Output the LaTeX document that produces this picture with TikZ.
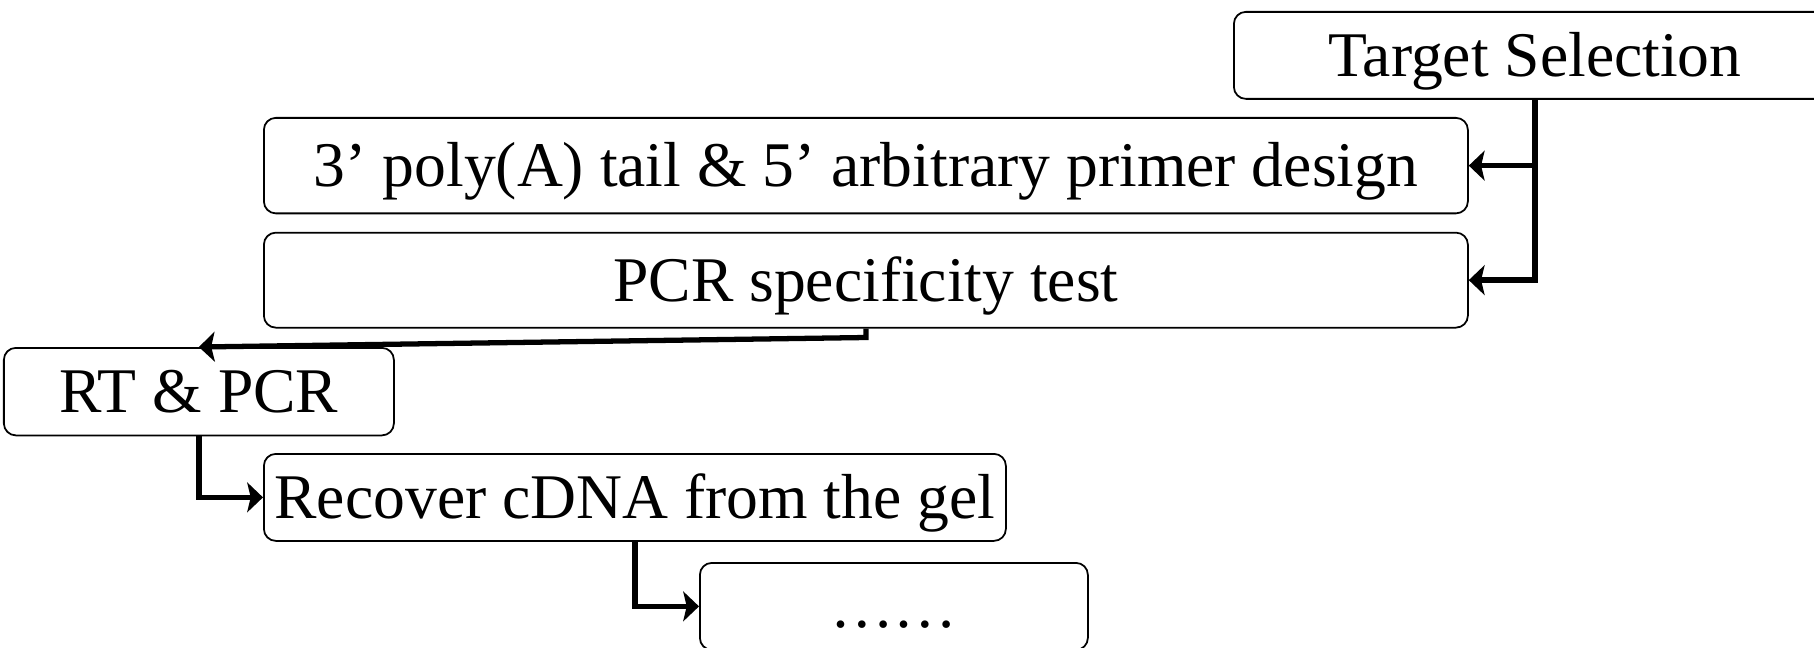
\documentclass[tikz,border=0pt]{standalone}
\usepackage{fontspec}
\setmainfont{Liberation Serif}
\usetikzlibrary{positioning,arrows.meta}

\begin{document}
\begin{tikzpicture}[
    box/.style={rectangle, draw, line width=0.5pt, rounded corners=3.4pt, inner sep=0pt,
        minimum height=0.87cm, text height=0.47cm, text depth=0.05cm,
        font=\fontsize{18.1pt}{21pt}\selectfont, anchor=north west},
    arrow/.style={-{Stealth[length=4.5pt,width=8.5pt,inset=1pt]}, line width=1.5pt}
]
    \clip (0,0) rectangle (18.14,-6.47);
    \useasboundingbox (0,0) rectangle (18.14,-6.47);

    \node[box, minimum width=6.02cm] (target) at (12.33,-0.11) {Target Selection};
    \node[box, minimum width=12.04cm, minimum height=0.955cm] (primer) at (2.63,-1.17) {3’ poly(A) tail \& 5’ arbitrary primer design};
    \node[box, minimum width=12.04cm, minimum height=0.95cm, below=0.175cm of primer, anchor=north] (pcr) {PCR specificity test};
    \node[box, minimum width=3.90cm, minimum height=0.875cm] (rt) at (0.03,-3.47) {RT \& PCR};
    \node[box, minimum width=7.42cm] (rec) at (2.63,-4.53) {Recover cDNA from the gel};
    \node[box, minimum width=3.88cm] (dots) at (6.99,-5.62) {……};

    \draw[arrow] (target.south) |- (primer.east);
    \draw[arrow] (target.south) |- (pcr.east);
    \draw[arrow] (pcr.south) -- ++(0,-0.09) -- (rt.north);
    \draw[arrow] (rt.south) |- (rec.west);
    \draw[arrow] (rec.south) |- (dots.west);
\end{tikzpicture}
\end{document}
